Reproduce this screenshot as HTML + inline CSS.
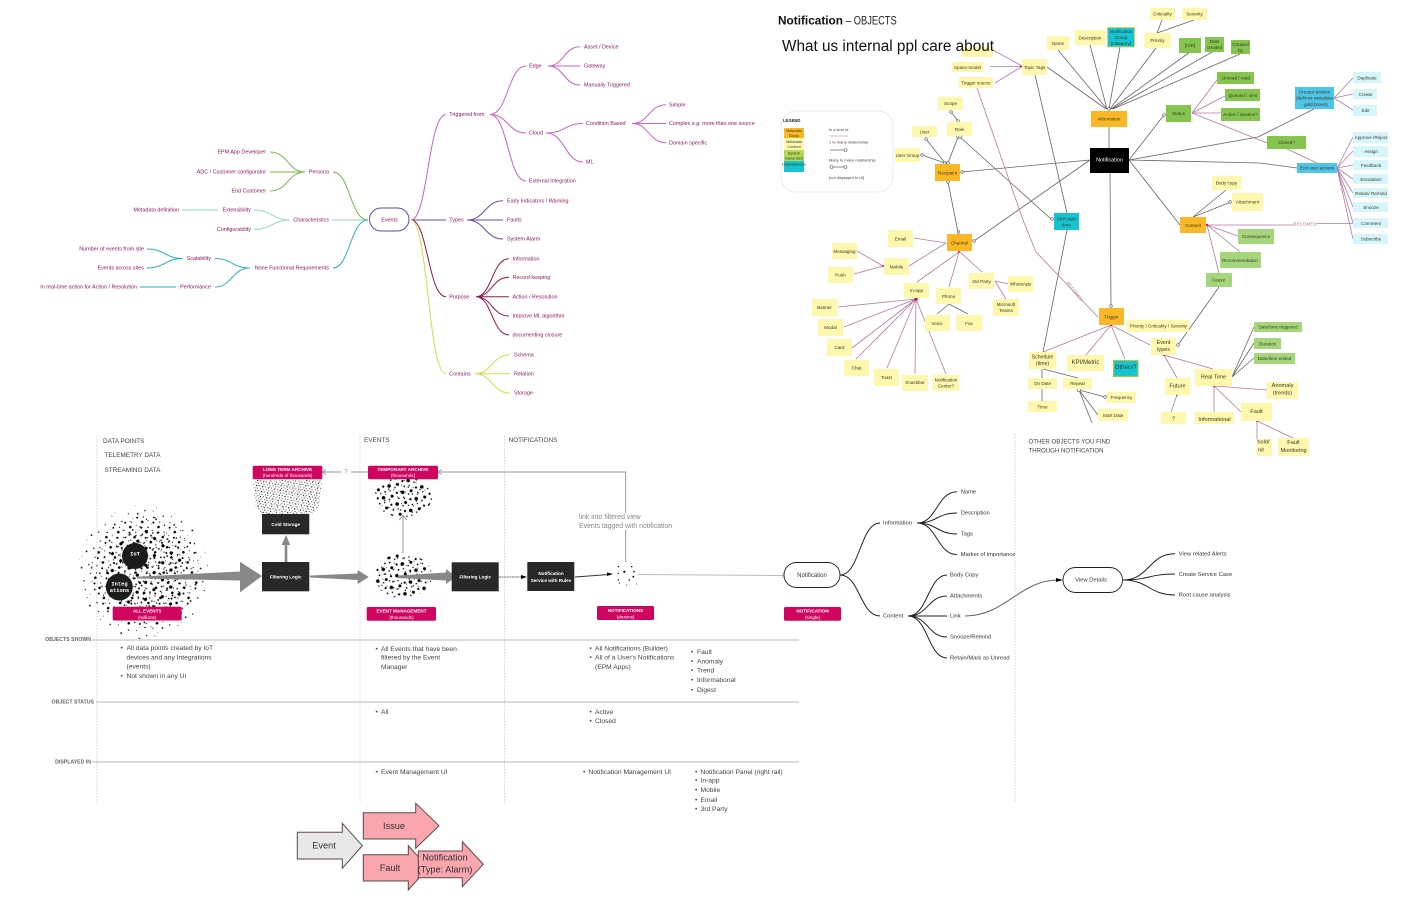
<!DOCTYPE html>
<html><head><meta charset="utf-8">
<style>
html,body{margin:0;padding:0;background:#fff;width:1404px;height:912px;overflow:hidden}
svg{display:block;filter:blur(.3px)}
text{font-family:"Liberation Sans",sans-serif;dominant-baseline:central;transform:translateY(.6px)}
.m text{fill:#8a1a62;font-size:5.4px}
.k text{fill:#333;font-size:5.8px}
.e{text-anchor:end}
.n text{fill:#3a3a20;font-size:4.6px;text-anchor:middle}
.y{fill:#fdf8ae}.o{fill:#fbb826}.g{fill:#86c450}.l{fill:#a6d67c}.c{fill:#14c4d2}.b{fill:#4ec5ea}.p{fill:#d6f6fb}
.d{fill:none;stroke:#666;stroke-width:.8}
.q{fill:none;stroke:#b57aa0;stroke-width:.8}
.h text{fill:#444;font-size:6.4px}
.t text{fill:#444;font-size:6.7px}
.w text{fill:#fff;text-anchor:middle;font-weight:bold;font-size:4.6px}
.r{fill:#d0055f}
.f{fill:#282828}
.v{stroke:#ccc;stroke-width:.8;stroke-dasharray:1.5 1.5;fill:none}
.ro text{fill:#666;font-size:5.2px;font-weight:bold;text-anchor:end}
.a text{fill:#333;font-size:9.2px;text-anchor:middle}
</style></head>
<body>
<svg width="1404" height="912" viewBox="0 0 1404 912" xmlns="http://www.w3.org/2000/svg">
<defs>
<pattern id="p1" width="19" height="17" patternUnits="userSpaceOnUse" patternTransform="rotate(17)"><circle cx="3" cy="4" r=".7"/><circle cx="11" cy="2" r=".5"/><circle cx="16" cy="9" r=".9"/><circle cx="7" cy="12" r=".6"/><circle cx="13" cy="15" r=".4"/></pattern>
<pattern id="p2" width="13" height="11" patternUnits="userSpaceOnUse" patternTransform="rotate(-23)"><circle cx="2" cy="2" r="1"/><circle cx="8" cy="4" r=".6"/><circle cx="5" cy="8" r="1.300"/><circle cx="11" cy="9" r=".5"/></pattern>
<pattern id="p3" width="11" height="13" patternUnits="userSpaceOnUse" patternTransform="rotate(41)"><circle cx="3" cy="3" r=".8"/><circle cx="8" cy="6" r="1.600"/><circle cx="2" cy="10" r=".6"/><circle cx="7" cy="11" r=".9"/></pattern>
<pattern id="p4" width="15" height="13" patternUnits="userSpaceOnUse" patternTransform="rotate(25)"><circle cx="3" cy="3" r="1.800"/><circle cx="9" cy="2" r=".8"/><circle cx="13" cy="6" r="1.100"/><circle cx="6" cy="7" r=".7"/><circle cx="2" cy="10" r=".9"/><circle cx="10" cy="11" r="1.500"/></pattern>
<pattern id="p5" width="9" height="8" patternUnits="userSpaceOnUse" patternTransform="rotate(-30)"><circle cx="2" cy="2" r=".7"/><circle cx="6" cy="5" r=".5"/></pattern>
<pattern id="p6" width="6" height="5" patternUnits="userSpaceOnUse" patternTransform="rotate(12)"><circle cx="1" cy="1" r=".45"/><circle cx="4" cy="1.500" r=".6"/><circle cx="2.500" cy="3.500" r=".4"/><circle cx="5" cy="4" r=".5"/></pattern>
<pattern id="p7" width="4" height="4" patternUnits="userSpaceOnUse" patternTransform="rotate(-35)"><circle cx="1" cy="2" r=".35"/></pattern>
</defs>

<!-- Events mindmap -->
<g fill="none" stroke-width="1">
<g stroke="#7ab84a">
<path d="M368 220C350 220 350 172 333 172"/>
<path d="M305 172C288 172 288 152 270 152M305 172C288 172 288 172 270 172M305 172C288 172 288 191 270 191"/>
</g>
<g stroke="#8fdcc8">
<path d="M368 220H332M290 220C272 220 272 210 254 210M290 220C272 220 272 229.500 254 229.500M218 210H182"/>
</g>
<g stroke="#2bb2ba">
<path d="M368 220C350 220 350 268 333 268M250 268C232 268 232 258.500 215 258.500M250 268C232 268 232 287 215 287M183 258.500C165 258.500 165 249 147 249M183 258.500C165 258.500 165 268 147 268M176 287H140"/>
</g>
<g stroke="#c463c4">
<path d="M411 220C428 220 428 114.500 446 114.500M490 114.500C508 114.500 508 66 526 66M490 114.500C508 114.500 508 133 526 133M490 114.500C508 114.500 508 181 526 181"/>
<path d="M548 66C564 66 564 46.700 580 46.700M548 66H580M548 66C564 66 564 85 580 85M546 133C565 133 565 123.500 583 123.500M546 133C565 133 565 162 583 162"/>
<path d="M632 123.500C649 123.500 649 104.700 666 104.700M632 123.500H666M632 123.500C649 123.500 649 142.700 666 142.700"/>
</g>
<g stroke="#6a4aa8">
<path d="M411 220H446M467 220C485 220 485 200.700 503 200.700M467 220H503M467 220C485 220 485 239 503 239"/>
</g>
<g stroke="#8e1a52">
<path d="M411 220C428 220 428 296.700 446 296.700"/>
<path d="M476 296.700C492 296.700 492 258.700 509 258.700M476 296.700C492 296.700 492 277.300 509 277.300M476 296.700H509M476 296.700C492 296.700 492 316 509 316M476 296.700C492 296.700 492 335 509 335"/>
</g>
<g stroke="#cbdf48">
<path d="M411 220C428 220 428 373.700 446 373.700M475 373.700C492 373.700 492 354.700 510 354.700M475 373.700H510M475 373.700C492 373.700 492 393 510 393"/>
</g>
</g>
<rect x="369.500" y="208" width="39.500" height="23" rx="11.500" fill="#fff" stroke="#5f4aa0" stroke-width="1"/>
<g class="m">
<text x="389.500" y="220" text-anchor="middle">Events</text>
<text class="e" x="329" y="171.700">Persona</text>
<text class="e" x="266" y="152">EPM App Developer</text>
<text class="e" x="266" y="171.700">ADC / Customer configurator</text>
<text class="e" x="266" y="191">End Customer</text>
<text class="e" x="179" y="210">Metadata definition</text>
<text class="e" x="251" y="210">Extensibility</text>
<text class="e" x="251" y="229.500">Configurability</text>
<text class="e" x="329" y="220">Characteristics</text>
<text class="e" x="144" y="249">Number of events from site</text>
<text class="e" x="144" y="268">Events across sites</text>
<text class="e" x="137" y="287">In real-time action for Action / Resolution</text>
<text class="e" x="211" y="258.500">Scalability</text>
<text class="e" x="211" y="287">Performance</text>
<text class="e" x="329" y="268">None Functional Requirements</text>
<text x="449.300" y="114.300">Triggered from</text>
<text x="449.300" y="220">Types</text>
<text x="449.300" y="296.700">Purpose</text>
<text x="449.300" y="373.700">Contains</text>
<text x="529" y="66">Edge</text>
<text x="529" y="133">Cloud</text>
<text x="529" y="181">External Integration</text>
<text x="584" y="46.700">Asset / Device</text>
<text x="584" y="66">Gateway</text>
<text x="584" y="85">Manually Triggered</text>
<text x="586" y="123.500">Condition Based</text>
<text x="586" y="162">ML</text>
<text x="669" y="104.700">Simple</text>
<text x="669" y="123.500">Complex e.g. more than one source</text>
<text x="669" y="142.700">Domain specific</text>
<text x="507" y="200.700">Early Indicators / Warning</text>
<text x="507" y="220">Faults</text>
<text x="507" y="239">System Alarm</text>
<text x="512.500" y="258.700">Information</text>
<text x="512.500" y="277.300">Record keeping</text>
<text x="512.500" y="296.700">Action / Resolution</text>
<text x="512.500" y="316">Improve ML algorithm</text>
<text x="512.500" y="335">documenting closure</text>
<text x="514" y="354.700">Schema</text>
<text x="514" y="373.700">Relation</text>
<text x="514" y="393">Storage</text>
</g>

<!-- Title -->
<text x="778" y="21" font-size="11.500" font-weight="bold" fill="#111" textLength="65" lengthAdjust="spacingAndGlyphs">Notification</text>
<text x="846" y="21" font-size="11.500" fill="#222" textLength="50.700" lengthAdjust="spacingAndGlyphs">– OBJECTS</text>

<!-- Sticky notes: blank behind heading -->
<rect class="y" x="962" y="47" width="31" height="10"/>
<text x="782" y="46" font-size="15.500" fill="#111" textLength="212" lengthAdjust="spacingAndGlyphs">What us internal ppl care about</text>

<!-- Legend -->
<rect x="781" y="111" width="112" height="81" rx="15" fill="#fff" stroke="#ececec" stroke-width="1"/>
<text x="783" y="120" font-size="4.200" font-weight="bold" fill="#222">LEGEND</text>
<rect class="o" x="784" y="128" width="20" height="10"/>
<rect class="y" x="784" y="138" width="20" height="12"/>
<rect x="784" y="150" width="20" height="11" fill="#b4d85a"/>
<rect class="c" x="784" y="161" width="20" height="11"/>
<g class="n"><text style="font-size:3.800px" x="794" y="130.500">Metadata</text><text style="font-size:3.800px" x="794" y="135.500">Group</text><text style="font-size:3.800px" x="794" y="141.500">Metadata</text><text style="font-size:3.800px" x="794" y="146.500">Content</text><text style="font-size:3.800px" x="794" y="153">System</text><text style="font-size:3.800px" x="794" y="158">Generated</text><text style="font-size:3.800px" x="794" y="164">Dependencies</text></g>
<g font-size="4" fill="#444"><text x="829" y="129">Is a kind of</text><text x="829" y="141.500">1 to many relationship</text><text x="829" y="159.500">Many to many relationship</text><text x="829" y="177">[not displayed in UI]</text></g>
<path d="M829 136H848" stroke="#d59bc0" stroke-width=".8"/>
<path d="M830 150H845M832 167H845" class="d"/>
<g fill="#fff" stroke="#555" stroke-width=".6"><circle cx="845.500" cy="150" r="1.500"/><circle cx="831.500" cy="167" r="1.500"/><circle cx="845.500" cy="167" r="1.500"/></g>

<!-- grey links -->
<g class="d">
<path d="M1047 67L1106 109M1058 50L1107 109M1090 45L1107 109M1120 47L1109 109M1156 48L1110 109M1190 52L1111 109M1214 51L1112 109M1240 54L1113 109"/>
<path d="M1157 33L1162 20M1157 33L1194 20"/>
<path d="M1109 127V148M1110 173L1111 305M1129 160L1164 115M1129 160L1258 137L1314 109M1129 160L1260 163L1297 168M1129 160L1180 225M1090 160L962 172M1090 160L974 241"/>
<path d="M1035 75L1067 213M1067 230L1043 352"/>
<path d="M951 112L958 121M926 139L945 163M922 155L945 163M958 137L948 163M960 137L1051 219M948 182L958 232"/>
<path d="M949 304L937 314M949 304L968 314"/>
<path d="M1178 345L1219 287"/>
<path d="M1232 377L1254 327M1232 377L1254 343M1232 377L1254 358"/>
<path d="M1042 369V378M1042 389V401M1043 369L1078 378M1079 390L1105 397M1079 390L1098 415M1079 390L1092 423"/>
<path d="M1226 190L1193 217M1231 202L1193 217"/>
</g>
<!-- pink links -->
<g class="q">
<path d="M993 50L1022 66M990 66.500H1021M995 83L1021 67"/>
<path d="M977 88L1023 220L1036 252L1098 317"/>
<path d="M914 238L946 243M909 266L946 243M917 282L959 252M949 287L959 252M982 272L960 252M857 251L883 266M854 274L883 266M1008 284L995 281M1006 299L995 281"/>
<path d="M838 307L916 299M844 327L916 299M852 348L916 299M856 359L916 299M887 368L916 299M915 374L916 299M946 374L916 299"/>
<path d="M1111 325L1043 352M1111 325L1086 355M1111 325L1125 359M1111 325L1150 345"/>
<path d="M1177 378L1164 355M1213 369L1164 355M1171 412L1177 395M1214 412L1214 386M1241 412L1214 386M1267 390L1214 386M1293 438L1257 421M1257 439V421"/>
<path d="M1192 113L1217 80M1192 113L1225 96M1192 113H1221M1192 113L1267 143M1287 149L1317 163"/>
<path d="M1334 98L1353 78M1334 98L1353 94M1334 98L1353 110"/>
<path d="M1337 168L1353 137M1337 168L1353 151M1337 168L1353 165M1337 168L1353 179M1337 168L1353 193M1337 168L1353 207M1337 168L1353 223M1337 168L1353 239"/>
<path d="M1206 225H1294M1316 223.500H1353M1238 236L1207 225M1240 252L1207 225M1219 273L1207 225"/>
</g>
<text x="1305" y="223.500" font-size="4.600" fill="#c07a9f" text-anchor="middle">BECOMES</text>
<g transform="translate(1075,291) rotate(52)"><text x="0" y="0" font-size="4.600" fill="#c07a9f" text-anchor="middle">BECOMES</text></g>
<g fill="#fff" stroke="#555" stroke-width=".6">
<circle cx="951" cy="112" r="1.300"/><circle cx="958" cy="121" r="1.300"/><circle cx="926" cy="139" r="1.300"/><circle cx="922" cy="155" r="1.300"/><circle cx="945" cy="163" r="1.300"/><circle cx="948" cy="163" r="1.300"/><circle cx="958" cy="137" r="1.300"/><circle cx="960" cy="137" r="1.300"/><circle cx="1052" cy="219" r="1.300"/><circle cx="962" cy="172" r="1.300"/><circle cx="948" cy="182" r="1.300"/><circle cx="958.500" cy="232" r="1.300"/><circle cx="974" cy="241" r="1.300"/><circle cx="1111" cy="306" r="1.300"/><circle cx="1164" cy="115" r="1.300"/><circle cx="1178" cy="345" r="1.300"/><circle cx="1079" cy="390" r="1.700"/><circle cx="1105" cy="397" r="1.300"/><circle cx="1109" cy="109" r="1.300"/><circle cx="1230" cy="202" r="1.300"/>
</g>
<g fill="#d0155f"><circle cx="916" cy="299" r="1.800"/><circle cx="959" cy="252" r="1"/><circle cx="883" cy="266" r="1"/><circle cx="1111" cy="325" r="1"/><circle cx="1164" cy="355" r="1"/><circle cx="1214" cy="386" r="1"/><circle cx="1257" cy="421" r="1"/><circle cx="1177" cy="395" r="1"/><circle cx="1207" cy="225" r="1.200"/><circle cx="1021" cy="66.500" r="1"/></g>

<!-- note rectangles -->
<g class="y">
<rect x="1047" y="36" width="22" height="14"/><rect x="1075" y="30" width="30" height="15"/><rect x="952" y="62" width="31" height="10"/><rect x="959" y="77" width="34" height="11"/><rect x="1022" y="59" width="25" height="16"/>
<rect x="938" y="97" width="25" height="13"/><rect x="947" y="122" width="25" height="14"/><rect x="912" y="126" width="25" height="11"/><rect x="895" y="148" width="25" height="14"/>
<rect x="888" y="230" width="25" height="17"/><rect x="832" y="243" width="25" height="16"/><rect x="884" y="258" width="25" height="17"/><rect x="828" y="267" width="25" height="16"/><rect x="904" y="283" width="25" height="15"/><rect x="936" y="288" width="25" height="16"/><rect x="969" y="273" width="25" height="16"/><rect x="1008" y="276" width="25" height="16"/><rect x="993" y="299" width="26" height="17"/>
<rect x="812" y="299" width="25" height="17"/><rect x="818" y="319" width="25" height="17"/><rect x="827" y="339" width="25" height="17"/><rect x="844" y="360" width="25" height="16"/><rect x="874" y="369" width="25" height="17"/><rect x="902" y="375" width="26" height="16"/><rect x="933" y="375" width="26" height="16"/><rect x="925" y="315" width="25" height="16"/><rect x="956" y="315" width="26" height="16"/>
<rect x="1127" y="320" width="62" height="12"/><rect x="1029" y="352" width="27" height="17"/><rect x="1067" y="355" width="37" height="16"/><rect x="1151" y="338" width="25" height="17"/><rect x="1028" y="378" width="29" height="11"/><rect x="1028" y="401" width="29" height="11"/><rect x="1063" y="378" width="29" height="11"/><rect x="1107" y="392" width="29" height="11"/><rect x="1098" y="409" width="30" height="12"/>
<rect x="1165" y="378" width="25" height="17"/><rect x="1161" y="412" width="25" height="12"/><rect x="1195" y="369" width="37" height="17"/><rect x="1195" y="412" width="39" height="12"/><rect x="1241" y="403" width="31" height="18"/><rect x="1267" y="382" width="31" height="17"/><rect x="1257" y="439" width="15" height="17"/><rect x="1278" y="438" width="31" height="18"/>
<rect x="1150" y="8" width="25" height="12"/><rect x="1182" y="8" width="25" height="12"/><rect x="1144" y="33" width="27" height="15"/><rect x="1212" y="176" width="29" height="14"/><rect x="1232" y="193" width="31" height="18"/>
</g>
<g class="o"><rect x="935" y="164" width="25" height="17"/><rect x="947" y="234" width="25" height="17"/><rect x="1099" y="308" width="25" height="17"/><rect x="1091" y="111" width="36" height="16"/><rect x="1180" y="217" width="26" height="16"/></g>
<g class="g"><rect x="1179" y="38" width="22" height="15"/><rect x="1205" y="37" width="19" height="15"/><rect x="1231" y="40" width="19" height="14"/><rect x="1166" y="105" width="25" height="17"/><rect x="1217" y="72" width="37" height="12"/><rect x="1225" y="89" width="35" height="12"/><rect x="1221" y="108" width="39" height="13"/><rect x="1267" y="136" width="39" height="13"/></g>
<g class="l"><rect x="1254" y="322" width="48" height="10"/><rect x="1254" y="338" width="27" height="11"/><rect x="1254" y="353" width="41" height="11"/><rect x="1220" y="252" width="41" height="16"/><rect x="1206" y="273" width="26" height="14"/><rect x="1238" y="229" width="36" height="15"/></g>
<rect x="1107.500" y="27.500" width="27" height="19.500" fill="#14c4d2" stroke="#d8d64a" stroke-width="1"/>
<rect x="1113.500" y="360.500" width="24.500" height="16" fill="#14c4d2" stroke="#a8c850" stroke-width="1.200"/>
<rect class="c" x="1054" y="213" width="25" height="17"/>
<g class="b"><rect x="1295" y="87" width="39" height="22"/><rect x="1297" y="163" width="40" height="10"/></g>
<g class="p"><rect x="1353" y="72" width="28" height="11"/><rect x="1353" y="89" width="24" height="10"/><rect x="1353" y="105" width="24" height="11"/><rect x="1353" y="132" width="35" height="11"/><rect x="1353" y="146" width="35" height="11"/><rect x="1353" y="160" width="35" height="10"/><rect x="1353" y="174" width="35" height="10"/><rect x="1353" y="188" width="35" height="10"/><rect x="1353" y="202" width="35" height="10"/><rect x="1353" y="218" width="35" height="10"/><rect x="1353" y="234" width="35" height="10"/></g>
<rect x="1090" y="148" width="39" height="25" fill="#000"/>
<text x="1109.500" y="160" font-size="5.400" fill="#fff" text-anchor="middle">Notification</text>

<!-- note labels -->
<g class="n">
<text x="1058" y="43">Name</text><text x="1090" y="37.500">Description</text><text x="967.500" y="67">Space-model</text><text x="976" y="82.500">Trigger source</text><text x="1034.500" y="67">Topic Tags</text>
<text x="950.500" y="103">Scope</text><text x="959.500" y="129">Role</text><text x="924.500" y="131.500">User</text><text x="907.500" y="155">User Group</text><text x="947.500" y="172.500">Recipient</text>
<text x="1066.500" y="218.500">Shift start</text><text x="1066.500" y="224.500">time</text>
<text x="900.500" y="238.500">Email</text><text x="959.500" y="242.500">Channel</text><text x="844.500" y="251">Messaging</text><text x="896.500" y="266.500">Mobile</text><text x="840.500" y="274.500">Push</text><text x="916.500" y="290">In-app</text><text x="948.500" y="296">Phone</text><text x="981.500" y="281">3rd Party</text><text x="1020.500" y="283.500">WhatsApp</text><text x="1006" y="304">Microsoft</text><text x="1006" y="310">Teams</text>
<text x="824.500" y="307">Banner</text><text x="830.500" y="327">Modal</text><text x="839.500" y="347">Card</text><text x="856.500" y="367.500">Chat</text><text x="886.500" y="377">Toast</text><text x="915" y="382">Snackbar</text><text x="946" y="379.500">Notification</text><text x="946" y="385.500">Center?</text><text x="937" y="323">Voice</text><text x="969" y="323">Fax</text>
<text x="1111.500" y="316.500">Trigger</text><text x="1158.500" y="325.500">Priority \ Criticality \ Severity</text>
<text x="1042.500" y="357" style="font-size:5.200px">Schedule</text><text x="1042.500" y="363.500" style="font-size:5.200px">(time)</text>
<text x="1085.500" y="362.500" style="font-size:6px">KPI/Metric</text><text x="1125.500" y="367.500" style="font-size:6px">Others?</text>
<text x="1163.500" y="342.500" style="font-size:5.400px">Event</text><text x="1163.500" y="349.500" style="font-size:5.400px">types</text>
<text x="1042.500" y="383">On Date</text><text x="1042.500" y="406.500">Time</text><text x="1077.500" y="383">Repeat</text><text x="1121.500" y="397">Frequency</text><text x="1113" y="415">Start Date</text>
<text x="1177.500" y="386" style="font-size:5.600px">Future</text><text x="1173.500" y="419" style="font-size:5.600px">?</text><text x="1213.500" y="377" style="font-size:5.600px">Real Time</text><text x="1214.500" y="419.500" style="font-size:5.600px">Informational</text><text x="1256.500" y="411.500" style="font-size:5.600px">Fault</text><text x="1282.500" y="385.500" style="font-size:5.600px">Anomaly</text><text x="1282.500" y="393" style="font-size:5.600px">(trends)</text>
<text x="1263.500" y="442" style="font-size:5.600px">hold/</text><text x="1261" y="450" style="font-size:5.600px">nit</text><text x="1293.500" y="442.500" style="font-size:5.600px">Fault</text><text x="1293.500" y="450.500" style="font-size:5.600px">Monitoring</text>
<text x="1278" y="326.500">Date/time triggered</text><text x="1267.500" y="343.500">Duration</text><text x="1274.500" y="358">Date/time ended</text><text x="1240" y="260">Recommendation</text><text x="1218.500" y="279.500">Cause</text><text x="1256" y="236">Consequence</text>
<text x="1162.500" y="13.500">Criticality</text><text x="1194.500" y="13.500">Severity</text><text x="1121" y="31">Notification</text><text x="1121" y="37">Group</text><text x="1121" y="43">(category)</text><text x="1157.500" y="40">Priority</text>
<text x="1190" y="45">[UID]</text><text x="1214.500" y="41">Date</text><text x="1214.500" y="47">created</text><text x="1240.500" y="44">Created</text><text x="1240.500" y="50">by</text>
<text x="1109" y="118.500">Information</text><text x="1178.500" y="113">Status</text><text x="1236" y="77.500">Unread / read</text><text x="1243" y="95">Queued / sent</text><text x="1240.500" y="114">Active / inactive?</text><text x="1286.500" y="142">Closed?</text>
<text x="1314.500" y="91.500">Creator actions</text><text x="1314.500" y="97.500">(defines metadata</text><text x="1314.500" y="104">- gold boxes)</text><text x="1317" y="167.500">End user actions</text>
<text x="1367" y="77.500">Duplicate</text><text x="1365.500" y="94">Create</text><text x="1365.500" y="110">Edit</text><text x="1371" y="137">Approve /Reject</text><text x="1371" y="151">Assign</text><text x="1371" y="165">Feedback</text><text x="1371" y="179">Escalation</text><text x="1371" y="193">Retain/ Remind</text><text x="1371" y="207">Snooze</text><text x="1371" y="223">Comment</text><text x="1371" y="238.500">Subscribe</text>
<text x="1226.500" y="182.500">Body copy</text><text x="1247.500" y="201.500">Attachment</text><text x="1193" y="225">Content</text>
</g>

<!-- Bottom: grid -->
<path class="v" d="M97 436V803M360 436V803M504.500 436V803M1015 434V803"/>
<path d="M92 640H799M96 702H799M92 762H799" stroke="#bbb" stroke-width="1.100" fill="none"/>
<g class="ro"><text x="91" y="639.500">OBJECTS SHOWN</text><text x="94" y="702">OBJECT STATUS</text><text x="91" y="762">DISPLAYED IN</text></g>
<g class="h">
<text x="103" y="441">DATA POINTS</text><text x="104.500" y="455">TELEMETRY DATA</text><text x="104.500" y="470">STREAMING DATA</text><text x="364" y="440">EVENTS</text><text x="508.500" y="440">NOTIFICATIONS</text><text x="1028.500" y="441.500" style="font-size:6.100px">OTHER OBJECTS YOU FIND</text><text x="1028.500" y="450.500" style="font-size:6.100px">THROUGH NOTIFICATION</text>
</g>

<!-- dots -->
<ellipse cx="143" cy="572" rx="65" ry="67" fill="url(#p1)"/>
<ellipse cx="145" cy="572" rx="54" ry="56" fill="url(#p2)"/>
<ellipse cx="147" cy="572" rx="40" ry="42" fill="url(#p3)"/>
<path d="M253 480H322L319 507L309 515H262L256 507Z" fill="url(#p6)"/>
<path d="M253 480H322L319 507L309 515H262L256 507Z" fill="url(#p7)"/>
<ellipse cx="403" cy="497" rx="29" ry="20" fill="url(#p4)"/>
<ellipse cx="403" cy="497" rx="25" ry="17" fill="url(#p5)"/>
<ellipse cx="403" cy="576" rx="29" ry="22" fill="url(#p4)"/>
<ellipse cx="403" cy="576" rx="25" ry="19" fill="url(#p5)"/>
<g fill="#000"><circle cx="618.300" cy="566.700" r=".7"/><circle cx="631.700" cy="566.700" r=".7"/><circle cx="624.300" cy="571.700" r="1.100"/><circle cx="634" cy="571.700" r=".8"/><circle cx="618.300" cy="573.300" r=".7"/><circle cx="633.300" cy="576.700" r=".9"/><circle cx="618.300" cy="580" r=".7"/><circle cx="629.300" cy="580" r=".7"/><circle cx="636.700" cy="584" r=".5"/><circle cx="626.700" cy="585" r=".5"/><circle cx="619.300" cy="583" r=".6"/></g>

<!-- connectors -->
<g fill="#888" stroke="none">
<polygon points="137,576.700 240,571.500 240,561.700 262,576 240,592.300 240,580.500 137,578.500"/>
<polygon points="310,575.500 357.700,573.500 357.700,570 368.700,577 357.700,584 357.700,580 310,577.500"/>
<polygon points="398,575.500 446,572.500 446,569 456,577 446,584 446,580.500 398,578"/>
<polygon points="284.700,562 284.700,545 281.700,545 286,535 290.300,545 287.300,545 287.300,562"/>
</g>
<g fill="none" stroke="#999" stroke-width="1">
<path d="M403 553V516M399 520L403 515.500L407 520"/>
<path d="M625.700 562V530M625.700 513V472H438.500M441.500 469.500L438 472L441.500 474.500"/>
<path d="M368 472H351M341 472H323M326 469.500L322.500 472L326 474.500"/>
</g>
<text x="346" y="472" font-size="6" fill="#888" text-anchor="middle">?</text>
<path d="M499 577H523" stroke="#444" stroke-width=".8" stroke-dasharray="2 .6"/><polygon points="521,575 527,577 521,579" fill="#000"/>
<path d="M575 577L609 574.500" stroke="#333" stroke-width=".9"/><polygon points="607,572.500 613,574 607,576" fill="#000"/>
<path d="M638 574.500L785 575.500" stroke="#bbb" stroke-width="1" fill="none"/><path d="M782 573L785.500 575.500L782 578" stroke="#bbb" fill="none"/>
<text x="579" y="517" font-size="6.900" fill="#888">link into filtered view</text>
<text x="579" y="526" font-size="6.900" fill="#888">Events tagged with notification</text>

<!-- Black boxes -->
<g class="f"><rect x="262" y="514" width="47.300" height="20.300"/><rect x="262" y="562" width="47.300" height="29.300"/><rect x="451.700" y="562.300" width="47" height="29"/><rect x="527.300" y="562" width="47" height="29"/></g>
<g class="w"><text x="285.700" y="524">Cold Storage</text><text x="285.700" y="576.500">Filtering Logic</text><text x="475.200" y="576.500">Filtering Logic</text><text x="551" y="573">Notification</text><text x="551" y="580">Service with Rules</text></g>

<!-- Pink labels -->
<g class="r"><rect x="112.700" y="606.700" width="69" height="13.800" rx="1.500"/><rect x="252.700" y="465.700" width="69.600" height="13.600" rx="1.500"/><rect x="368" y="465.700" width="70" height="13.600" rx="1.500"/><rect x="366.700" y="607" width="69.300" height="13.700" rx="1.500"/><rect x="597" y="606" width="57" height="14" rx="1.500"/><rect x="784" y="607" width="57" height="13.700" rx="1.500"/></g>
<g class="w">
<text x="147.200" y="610.500">ALL EVENTS</text><text x="147.200" y="617" style="font-weight:normal">(millions)</text>
<text x="287.500" y="469">LONG TERM ARCHIVE</text><text x="287.500" y="475" style="font-weight:normal">(hundreds of thousands)</text>
<text x="403" y="469">TEMPORARY ARCHIVE</text><text x="403" y="475" style="font-weight:normal">(thousands)</text>
<text x="401.500" y="610.500">EVENT MANAGEMENT</text><text x="401.500" y="617" style="font-weight:normal">(thousands)</text>
<text x="625.500" y="609.700">NOTIFICATIONS</text><text x="625.500" y="616.500" style="font-weight:normal">(dozens)</text>
<text x="812.500" y="610.500">NOTIFICATION</text><text x="812.500" y="617" style="font-weight:normal">(single)</text>
</g>

<!-- circles -->
<circle cx="135" cy="556" r="13" fill="#1c1c1c"/>
<circle cx="119.300" cy="587" r="13.500" fill="#1c1c1c"/>
<g fill="#fff" font-size="5.400" font-weight="bold" text-anchor="middle">
<text style="font-family:'Liberation Mono',monospace" x="135" y="554">IoT</text>
<text style="font-family:'Liberation Mono',monospace" x="119.500" y="584">Integ</text>
<text style="font-family:'Liberation Mono',monospace" x="119.500" y="590.500">ations</text>
</g>

<!-- Notification mindmap -->
<g fill="none" stroke="#222" stroke-width="1">
<path d="M840 575C860 575 860 523 880 523M840 575C860 575 860 616 880 616"/>
<path d="M917 523C937 523 937 491.700 957 491.700M917 523C937 523 937 513 957 513M917 523C937 523 937 534 957 534M917 523C937 523 937 554.500 957 554.500"/>
<path d="M908 616C928 616 928 575 947 575M908 616C928 616 928 596 947 596M908 616H947M908 616C928 616 928 637 947 637M908 616C928 616 928 658 947 658"/>
<path d="M1123 580C1149 580 1149 553.700 1175 553.700M1123 580C1149 580 1149 574 1175 574M1123 580C1149 580 1149 595 1175 595"/>
<path d="M965 616C1005 616 1020 580 1058 580" stroke="#666"/>
</g>
<polygon points="1056,578 1063,580 1056,582" fill="#000"/>
<rect x="784" y="562.500" width="56" height="25" rx="12.500" fill="#fff" stroke="#222" stroke-width=".9"/>
<rect x="1063" y="567.500" width="59.500" height="25" rx="12.500" fill="#fff" stroke="#222" stroke-width=".9"/>
<g class="k">
<text x="812" y="575.500" text-anchor="middle" style="font-size:6px">Notification</text>
<text x="1091" y="580" text-anchor="middle">View Details</text>
<text x="883" y="523">Information</text><text x="883" y="616">Content</text>
<text x="960.700" y="491.700">Name</text><text x="960.700" y="513">Description</text><text x="960.700" y="534">Tags</text><text x="960.700" y="554.500">Marker of importance</text>
<text x="950" y="575">Body Copy</text><text x="950" y="596">Attachments</text><text x="950" y="616">Link</text><text x="950" y="637">Snooze/Remind</text><text x="950" y="658">Retain/Mark as Unread</text>
<text x="1178.700" y="553.700">View related Alerts</text><text x="1178.700" y="574.500">Create Service Case</text><text x="1178.700" y="595">Root cause analysis</text>
</g>

<!-- lists -->
<g class="t">
<text x="120.500" y="648">•</text><text x="126.500" y="648">All data points created by IoT</text><text x="126.500" y="657.500">devices and any Integrations</text><text x="126.500" y="666.500">(events)</text><text x="120.500" y="676">•</text><text x="126.500" y="676">Not shown in any UI</text>
<text x="375.500" y="648.700">•</text><text x="381" y="648.700">All Events that have been</text><text x="381" y="657.500">filtered by the Event</text><text x="381" y="666.700">Manager</text>
<text x="589.500" y="648.500">•</text><text x="595" y="648.500">All Notifications (Builder)</text><text x="589.500" y="657.500">•</text><text x="595" y="657.500">All of a User's Notifications</text><text x="595" y="666.700">(EPM Apps)</text>
<text x="691" y="652">•</text><text x="697" y="652">Fault</text><text x="691" y="661.500">•</text><text x="697" y="661.500">Anomaly</text><text x="691" y="670.500">•</text><text x="697" y="670.500">Trend</text><text x="691" y="680">•</text><text x="697" y="680">Informational</text><text x="691" y="689.700">•</text><text x="697" y="689.700">Digest</text>
<text x="375.500" y="711.700">•</text><text x="381" y="711.700">All</text><text x="589.500" y="711.700">•</text><text x="595" y="711.700">Active</text><text x="589.500" y="721">•</text><text x="595" y="721">Closed</text>
<text x="375.500" y="771.700">•</text><text x="381" y="771.700">Event Management UI</text><text x="583" y="771.700">•</text><text x="588.500" y="771.700">Notification Management UI</text>
<text x="695" y="771.700">•</text><text x="700.500" y="771.700">Notification Panel (right rail)</text><text x="695" y="780.500">•</text><text x="700.500" y="780.500">In-app</text><text x="695" y="790">•</text><text x="700.500" y="790">Mobile</text><text x="695" y="800">•</text><text x="700.500" y="800">Email</text><text x="695" y="809">•</text><text x="700.500" y="809">3rd Party</text>
</g>

<!-- Block arrows -->
<g stroke="#5a4a4a" stroke-width="1">
<polygon fill="#e8e8e8" points="297.300,832.300 342.300,832.300 342.300,823.300 362.300,845.700 342.300,868.300 342.300,859 297.300,859"/>
<polygon fill="#f9a6ae" points="363.300,812.700 415.700,812.700 415.700,803.300 439,825.700 415.700,848.300 415.700,839 363.300,839"/>
<polygon fill="#f9a6ae" points="363.300,854.700 408.300,854.700 408.300,845.700 428.300,867.700 408.300,890 408.300,881 363.300,881"/>
<polygon fill="#f9a6ae" points="418.300,851 462.300,851 462.300,841.700 483.300,864.300 462.300,886.700 462.300,877.700 418.300,877.700"/>
</g>
<g class="a"><text x="324" y="845">Event</text><text x="394" y="825.500">Issue</text><text x="390" y="867.500">Fault</text><text x="445" y="857">Notification</text><text x="445" y="869">(Type: Alarm)</text></g>
</svg>
</body></html>
